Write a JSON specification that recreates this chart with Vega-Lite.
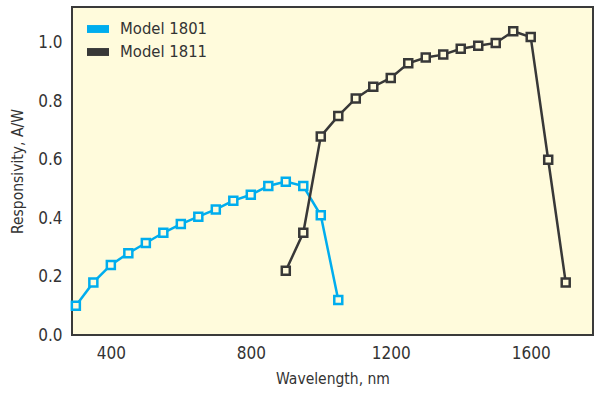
{
  "$schema": "https://vega.github.io/schema/vega-lite/v6.json",
  "width": 521,
  "height": 328,
  "autosize": "none",
  "padding": {"left": 72, "top": 7, "right": 7, "bottom": 64},
  "background": "white",
  "config": {
    "view": {"fill": "#fffbdc", "stroke": "#3a3a3a", "strokeWidth": 2},
    "font": "DejaVu Sans Condensed, Roboto",
    "axis": {"domain": false, "ticks": false, "grid": false, "labelColor": "#333333", "titleColor": "#333333", "labelFont": "DejaVu Sans Condensed, Roboto", "titleFont": "DejaVu Sans Condensed, Roboto", "titleFontWeight": "normal"}
  },
  "data": {
    "values": [
      {"model": "Model 1801", "wl": 300, "r": 0.10},
      {"model": "Model 1801", "wl": 350, "r": 0.18},
      {"model": "Model 1801", "wl": 400, "r": 0.24},
      {"model": "Model 1801", "wl": 450, "r": 0.28},
      {"model": "Model 1801", "wl": 500, "r": 0.315},
      {"model": "Model 1801", "wl": 550, "r": 0.35},
      {"model": "Model 1801", "wl": 600, "r": 0.38},
      {"model": "Model 1801", "wl": 650, "r": 0.405},
      {"model": "Model 1801", "wl": 700, "r": 0.43},
      {"model": "Model 1801", "wl": 750, "r": 0.46},
      {"model": "Model 1801", "wl": 800, "r": 0.48},
      {"model": "Model 1801", "wl": 850, "r": 0.51},
      {"model": "Model 1801", "wl": 900, "r": 0.525},
      {"model": "Model 1801", "wl": 950, "r": 0.51},
      {"model": "Model 1801", "wl": 1000, "r": 0.41},
      {"model": "Model 1801", "wl": 1050, "r": 0.12},
      {"model": "Model 1811", "wl": 900, "r": 0.22},
      {"model": "Model 1811", "wl": 950, "r": 0.35},
      {"model": "Model 1811", "wl": 1000, "r": 0.68},
      {"model": "Model 1811", "wl": 1050, "r": 0.75},
      {"model": "Model 1811", "wl": 1100, "r": 0.81},
      {"model": "Model 1811", "wl": 1150, "r": 0.85},
      {"model": "Model 1811", "wl": 1200, "r": 0.88},
      {"model": "Model 1811", "wl": 1250, "r": 0.93},
      {"model": "Model 1811", "wl": 1300, "r": 0.95},
      {"model": "Model 1811", "wl": 1350, "r": 0.96},
      {"model": "Model 1811", "wl": 1400, "r": 0.98},
      {"model": "Model 1811", "wl": 1450, "r": 0.99},
      {"model": "Model 1811", "wl": 1500, "r": 1.0},
      {"model": "Model 1811", "wl": 1550, "r": 1.04},
      {"model": "Model 1811", "wl": 1600, "r": 1.02},
      {"model": "Model 1811", "wl": 1650, "r": 0.60},
      {"model": "Model 1811", "wl": 1700, "r": 0.18}
    ]
  },
  "encoding": {
    "x": {"field": "wl", "type": "quantitative", "scale": {"domain": [289, 1778], "nice": false, "zero": false},
      "axis": {"values": [400, 800, 1200, 1600], "format": "d", "title": "Wavelength, nm", "labelFontSize": 17, "titleFontSize": 15.5, "labelPadding": 10, "titlePadding": 10}},
    "y": {"field": "r", "type": "quantitative", "scale": {"domain": [0, 1.123], "nice": false},
      "axis": {"values": [0, 0.2, 0.4, 0.6, 0.8, 1.0], "format": ".1f", "title": "Responsivity, A/W", "labelFontSize": 17, "titleFontSize": 15.5, "labelPadding": 10, "titlePadding": 12}},
    "color": {"field": "model", "type": "nominal", "scale": {"domain": ["Model 1801", "Model 1811"], "range": ["#00adee", "#383838"]},
      "legend": {"title": null, "orient": "none", "legendX": 15, "legendY": 11, "symbolType": "M-1,-0.36H1V0.36H-1Z", "symbolSize": 484, "symbolStrokeWidth": 0, "labelFontSize": 16.5, "labelColor": "#333333", "labelOffset": 11, "rowPadding": 3, "padding": 0, "symbolOpacity": 1,
        "encode": {"symbols": {"update": {"fill": {"scale": "color", "field": "value"}, "fillOpacity": {"value": 1}}}}}}
  },
  "layer": [
    {"mark": {"type": "line", "strokeWidth": 2.5}},
    {"mark": {"type": "point", "shape": "square", "filled": false, "fill": "#fffbdc", "fillOpacity": 1, "opacity": 1, "strokeWidth": 2.5, "size": 64}}
  ]
}
